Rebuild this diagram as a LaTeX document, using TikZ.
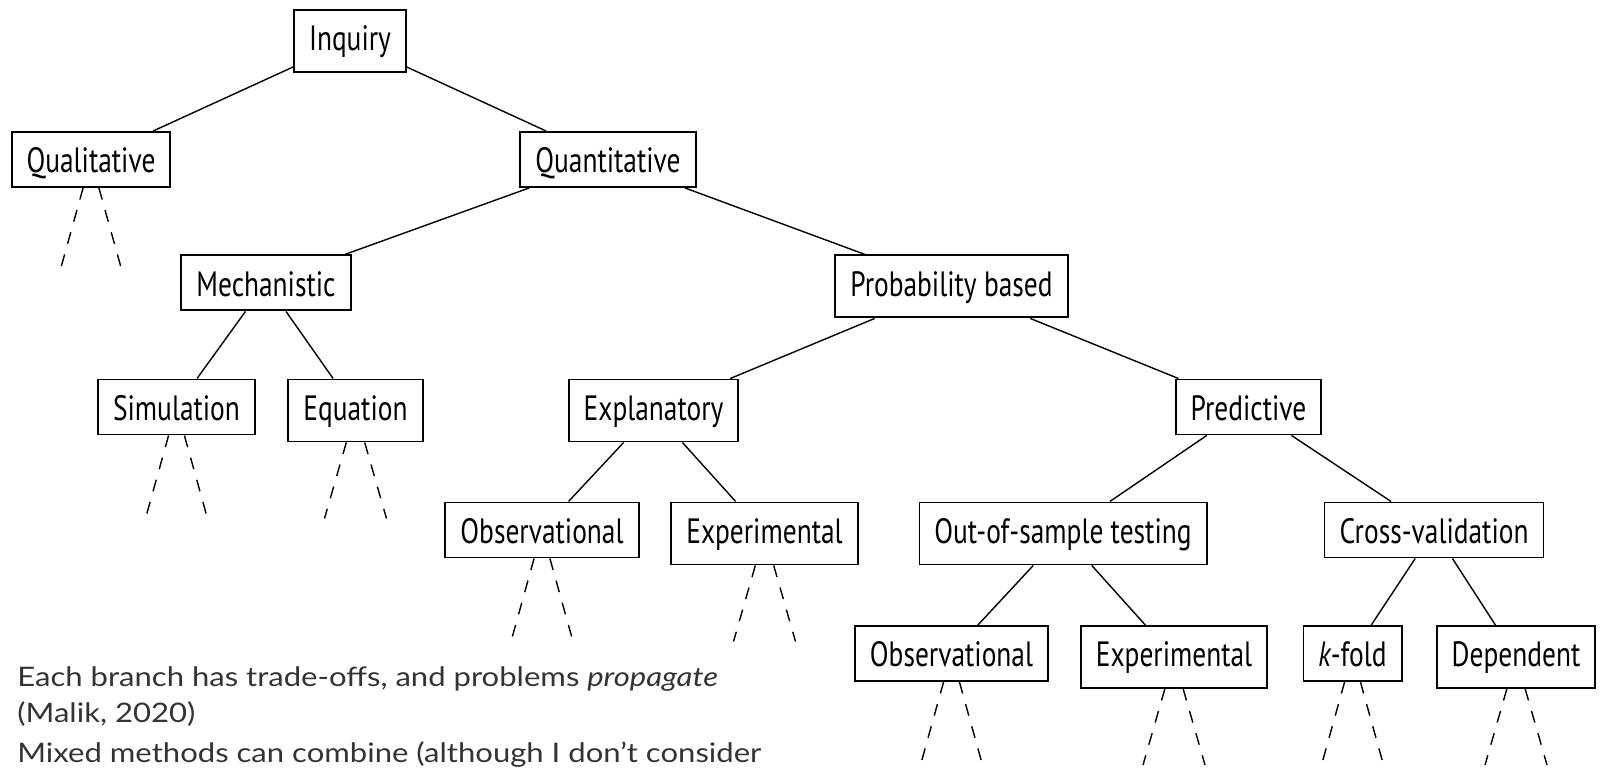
\documentclass[tikz,border=0pt]{standalone}
\usepackage{fontspec}
\newfontfamily\boxfont[FakeStretch=0.78]{PT Sans}
\newfontfamily\notefont[FakeStretch=1.155]{Lato}
\usetikzlibrary{positioning}

\begin{document}
\begin{tikzpicture}[
  % Node Styles
  tnode/.style={rectangle, draw, line width=1.1pt, fill=white, text=black, inner xsep=0.3cm, inner ysep=0.28cm, text height=0.54cm, text depth=0cm, anchor=north, font=\boxfont\fontsize{20}{24}\selectfont},
  deep/.style={text depth=0.14cm},
  note/.style={anchor=base west, inner sep=0pt, text=black!80, font=\notefont\fontsize{15.3}{18}\selectfont},
  % Line Styles
  branch/.style={line width=0.8pt},
  stub/.style={line width=0.8pt, dash pattern=on 0.24cm off 0.22cm},
]
\useasboundingbox (0,0) rectangle (32.08,-15.48);

% Inquiry tree

\node[tnode, deep] (N_Inquiry) at (7.00,-0.18) {Inquiry};

\node[tnode] (N_Qualitative) at (1.82,-2.62) {Qualitative};
\node[tnode] (N_Quantitative) at (12.16,-2.62) {Quantitative};

\node[tnode] (N_Mechanistic) at (5.32,-5.09) {Mechanistic};
\node[tnode, deep] (N_Probability) at (19.03,-5.09) {Probability based};

\node[tnode] (N_Simulation) at (3.53,-7.57) {Simulation};
\node[tnode, deep] (N_Equation) at (7.11,-7.57) {Equation};
\node[tnode, deep] (N_Explanatory) at (13.07,-7.57) {Explanatory};
\node[tnode] (N_Predictive) at (24.97,-7.57) {Predictive};

\node[tnode] (N_Observational_Expl) at (10.84,-10.03) {Observational};
\node[tnode, deep] (N_Experimental_Expl) at (15.29,-10.03) {Experimental};
\node[tnode, deep] (N_OutOfSample) at (21.26,-10.03) {Out-of-sample testing};
\node[tnode] (N_CrossValidation) at (28.68,-10.03) {Cross-validation};

\node[tnode] (N_Observational_OOS) at (19.03,-12.50) {Observational};
\node[tnode, deep] (N_Experimental_OOS) at (23.48,-12.50) {Experimental};
\node[tnode] (N_KFold) at (27.05,-12.50) {{\itshape k}-fold};
\node[tnode, deep] (N_Dependent) at (30.32,-12.50) {Dependent};

\draw[branch] (N_Inquiry) -- (N_Qualitative);
\draw[branch] (N_Inquiry) -- (N_Quantitative);
\draw[branch] (N_Quantitative) -- (N_Mechanistic);
\draw[branch] (N_Quantitative) -- (N_Probability);
\draw[branch] (N_Mechanistic) -- (N_Simulation);
\draw[branch] (N_Mechanistic) -- (N_Equation);
\draw[branch] (N_Probability) -- (N_Explanatory);
\draw[branch] (N_Probability) -- (N_Predictive);
\draw[branch] (N_Explanatory) -- (N_Observational_Expl);
\draw[branch] (N_Explanatory) -- (N_Experimental_Expl);
\draw[branch] (N_Predictive) -- (N_OutOfSample);
\draw[branch] (N_Predictive) -- (N_CrossValidation);
\draw[branch] (N_OutOfSample) -- (N_Observational_OOS);
\draw[branch] (N_OutOfSample) -- (N_Experimental_OOS);
\draw[branch] (N_CrossValidation) -- (N_KFold);
\draw[branch] (N_CrossValidation) -- (N_Dependent);

% open branches below the leaves
\draw[stub] (N_Qualitative) -- ([shift={(-0.62,-2.80)}]N_Qualitative.north);
\draw[stub] (N_Qualitative) -- ([shift={(0.62,-2.80)}]N_Qualitative.north);
\draw[stub] (N_Simulation) -- ([shift={(-0.62,-2.80)}]N_Simulation.north);
\draw[stub] (N_Simulation) -- ([shift={(0.62,-2.80)}]N_Simulation.north);
\draw[stub] (N_Equation) -- ([shift={(-0.62,-2.80)}]N_Equation.north);
\draw[stub] (N_Equation) -- ([shift={(0.62,-2.80)}]N_Equation.north);
\draw[stub] (N_Observational_Expl) -- ([shift={(-0.62,-2.80)}]N_Observational_Expl.north);
\draw[stub] (N_Observational_Expl) -- ([shift={(0.62,-2.80)}]N_Observational_Expl.north);
\draw[stub] (N_Experimental_Expl) -- ([shift={(-0.62,-2.80)}]N_Experimental_Expl.north);
\draw[stub] (N_Experimental_Expl) -- ([shift={(0.62,-2.80)}]N_Experimental_Expl.north);
\draw[stub] (N_Observational_OOS) -- ([shift={(-0.62,-2.80)}]N_Observational_OOS.north);
\draw[stub] (N_Observational_OOS) -- ([shift={(0.62,-2.80)}]N_Observational_OOS.north);
\draw[stub] (N_Experimental_OOS) -- ([shift={(-0.62,-2.80)}]N_Experimental_OOS.north);
\draw[stub] (N_Experimental_OOS) -- ([shift={(0.62,-2.80)}]N_Experimental_OOS.north);
\draw[stub] (N_KFold) -- ([shift={(-0.62,-2.80)}]N_KFold.north);
\draw[stub] (N_KFold) -- ([shift={(0.62,-2.80)}]N_KFold.north);
\draw[stub] (N_Dependent) -- ([shift={(-0.62,-2.80)}]N_Dependent.north);
\draw[stub] (N_Dependent) -- ([shift={(0.62,-2.80)}]N_Dependent.north);

% notes
\node[note] (T_Branch) at (0.34,-13.72) {Each branch has trade-offs, and problems \textit{propagate}};
\node[note] (T_Cite) at (0.34,-14.44) {(Malik, 2020)};
\node[note] (T_Mixed) at (0.34,-15.24) {Mixed methods can combine (although I don’t consider};

\end{tikzpicture}
\end{document}
